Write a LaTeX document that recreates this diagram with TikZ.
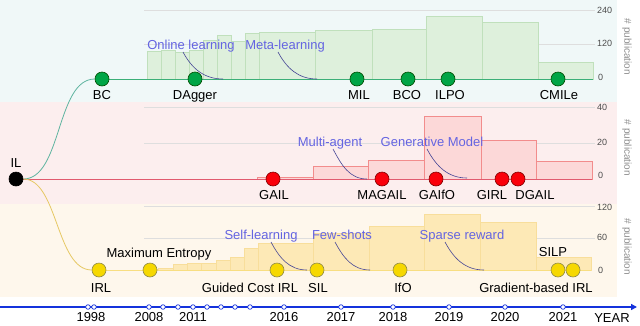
\documentclass[tikz,border=0pt]{standalone}
\usepackage{fontspec}
\setmainfont{Liberation Sans}
\usetikzlibrary{arrows.meta}
\pgfdeclarelayer{bands}
\pgfdeclarelayer{lines}
\pgfsetlayers{bands,lines,main}
\definecolor{bgtop}{RGB}{240,248,248}
\definecolor{bgmid}{RGB}{252,238,238}
\definecolor{bgbot}{RGB}{254,247,236}
\definecolor{bartopf}{RGB}{222,240,220}
\definecolor{bartopd}{RGB}{192,224,188}
\definecolor{barmidf}{RGB}{252,216,216}
\definecolor{barmidd}{RGB}{242,140,140}
\definecolor{barbotf}{RGB}{253,233,182}
\definecolor{barbotd}{RGB}{248,222,155}
\definecolor{annot}{RGB}{100,100,225}
\definecolor{curvec}{RGB}{70,70,150}
\definecolor{tlc}{RGB}{20,50,220}
\definecolor{greenn}{RGB}{0,165,70}
\definecolor{greenl}{RGB}{60,175,120}
\definecolor{redn}{RGB}{250,0,10}
\definecolor{redl}{RGB}{225,90,110}
\definecolor{yelln}{RGB}{246,216,0}
\definecolor{yelll}{RGB}{248,222,130}
\definecolor{tealc}{RGB}{95,180,160}
\definecolor{tanc}{RGB}{230,200,100}
\tikzset{
  lbl/.style={font=\fontsize{13}{15}\selectfont, anchor=base, inner sep=0pt},
  ann/.style={font=\fontsize{13}{15}\selectfont, text=annot, anchor=base, inner sep=0pt},
  axn/.style={font=\fontsize{9}{10}\selectfont, text=black!70, anchor=west, inner sep=0pt},
  axt/.style={font=\fontsize{10}{11}\selectfont, text=black!45, rotate=-90, inner sep=0pt},
  yr/.style={font=\fontsize{13}{15}\selectfont, anchor=base, inner sep=0pt},
  dot/.style={circle, minimum size=14pt, inner sep=0pt, line width=0.6pt},
  gdot/.style={dot, fill=greenn, draw=green!30!black},
  rdot/.style={dot, fill=redn, draw=red!50!black},
  ydot/.style={dot, fill=yelln, draw=yellow!50!black},
  kdot/.style={dot, fill=black, draw=black},
  tick/.style={circle, minimum size=4.6pt, inner sep=0pt, fill=white, draw=tlc, line width=0.7pt},
  grid/.style={draw=black!13, line width=0.7pt},
  tbar/.style={fill=bartopf, draw=bartopd, line width=0.6pt},
  mbar/.style={fill=barmidf, draw=barmidd, line width=0.6pt},
  bbar/.style={fill=barbotf, draw=barbotd, line width=0.6pt},
  acurve/.style={draw=curvec, line width=0.6pt},
}
\begin{document}
\begin{tikzpicture}[x=1pt,y=-1pt]
\useasboundingbox (0,0) rectangle (640,325);
\begin{pgfonlayer}{bands}
% bands
\fill[bgtop] (0,0) rectangle (617,102);
\fill[bgmid] (0,102) rectangle (617,204);
\fill[bgbot] (0,204) rectangle (617,297);
% grid lines
\foreach \g in {10,44,107,143,206,238} \draw[grid] (144,\g) -- (595,\g);
% bars top
\foreach \a/\b/\t in {147/161/51,161/175/50,175/189/52,189/203/50,203/217/40,217/231/35,231/245/41,245/259/33,259/315/32,315/372/30,372/426/29,426/482/16,482/538/22,538/593/62}
  \draw[tbar] (\a,79) rectangle (\b,\t);
% bars middle
\foreach \a/\b/\t in {257/313/177,313/368/166,368/424/160,424/481/116,481/536/140,536/592/161}
  \draw[mbar] (\a,179) rectangle (\b,\t);
% bars bottom
\foreach \a/\b/\t in {144/158/269,158/173/268,173/187/264,187/201/263,201/216/263,216/230/260,230/244/257,244/258/248,258/313/243,313/369/233,369/424/226,424/480/214,480/536/222,536/591/257}
  \draw[bbar] (\a,270) rectangle (\b,\t);
\end{pgfonlayer}
% axis labels
\node[axn] (t240) at (597,10) {240};
\node[axn] (t120) at (597,43) {120};
\node[axn] (t0) at (598,77) {0};
\node[axn] (m40) at (597,107) {40};
\node[axn] (m20) at (597,142) {20};
\node[axn] (m0) at (598,175) {0};
\node[axn] (b120) at (597,207) {120};
\node[axn] (b60) at (597,237) {60};
\node[axn] (b0) at (598,270) {0};
\node[axt] (pt) at (627,47) {\# publication};
\node[axt] (pm) at (627,148) {\# publication};
\node[axt] (pb) at (627,247) {\# publication};
% nodes
\node[kdot] (IL) at (16,179) {};
\node[gdot] (BC) at (102,79) {};
\node[gdot] (DAgger) at (195,79) {};
\node[gdot] (MIL) at (357,79) {};
\node[gdot] (BCO) at (408,79) {};
\node[gdot] (ILPO) at (448,79) {};
\node[gdot] (CMILe) at (558,79) {};
\node[rdot] (GAIL) at (273,179) {};
\node[rdot] (MAGAIL) at (382,179) {};
\node[rdot] (GAIfO) at (436,179) {};
\node[rdot] (GIRL) at (502,179) {};
\node[rdot] (DGAIL) at (518,179) {};
\node[ydot] (IRL) at (99,270) {};
\node[ydot] (MaxEnt) at (150,270) {};
\node[ydot] (GCIRL) at (277,270) {};
\node[ydot] (SIL) at (317,270) {};
\node[ydot] (IfO) at (400,270) {};
\node[ydot] (SILP) at (558,270) {};
\node[ydot] (GBIRL) at (573,270) {};
\coordinate (topend) at (593,79);
\coordinate (midend) at (592,179);
\coordinate (botend) at (591,270);
% connectors (behind nodes)
\begin{pgfonlayer}{lines}
\draw[greenl, line width=1pt] (BC) -- (topend);
\draw[redl, line width=1pt] (IL) -- (midend);
\draw[yelll, line width=1pt] (IRL) -- (botend);
\draw[tealc, line width=0.8pt] (IL) .. controls (62,179) and (56,79) .. (BC);
\draw[tanc, line width=0.8pt] (IL) .. controls (58,179) and (56,270) .. (IRL);
\end{pgfonlayer}
% node labels
\node[lbl] (lIL) at (16,167) {IL};
\node[lbl] (lBC) at (102,99) {BC};
\node[lbl] (lDAgger) at (195,99) {DAgger};
\node[lbl] (lMIL) at (359,99) {MIL};
\node[lbl] (lBCO) at (407,99) {BCO};
\node[lbl] (lILPO) at (450,99) {ILPO};
\node[lbl] (lCMILe) at (559,99) {CMILe};
\node[lbl] (lGAIL) at (274,199) {GAIL};
\node[lbl] (lMAGAIL) at (382,199) {MAGAIL};
\node[lbl] (lGAIfO) at (437,199) {GAIfO};
\node[lbl] (lGIRL) at (492,199) {GIRL};
\node[lbl] (lDGAIL) at (535,199) {DGAIL};
\node[lbl] (lIRL) at (101,292) {IRL};
\node[lbl] (lMaxEnt) at (159,257) {Maximum Entropy};
\node[lbl] (lGCIRL) at (250,292) {Guided Cost IRL};
\node[lbl] (lSIL) at (318,292) {SIL};
\node[lbl] (lIfO) at (403,292) {IfO};
\node[lbl] (lSILP) at (553,256) {SILP};
\node[lbl] (lGBIRL) at (536,292) {Gradient-based IRL};
% annotations
\node[ann] (aOnline) at (191,49) {Online learning};
\node[ann] (aMeta) at (285,49) {Meta-learning};
\node[ann] (aMulti) at (330,146) {Multi-agent};
\node[ann] (aGen) at (432,146) {Generative Model};
\node[ann] (aSelf) at (261,239) {Self-learning};
\node[ann] (aFew) at (342,239) {Few-shots};
\node[ann] (aSparse) at (462,239) {Sparse reward};
\coordinate (cOn1) at (183,52); \coordinate (cOn2) at (223,79);
\coordinate (cMe1) at (278,52); \coordinate (cMe2) at (317,79);
\coordinate (cMu1) at (333,149); \coordinate (cMu2) at (367,179);
\coordinate (cGe1) at (427,149); \coordinate (cGe2) at (467,178);
\coordinate (cSe1) at (271,242); \coordinate (cSe2) at (307,270);
\coordinate (cFe1) at (335,242); \coordinate (cFe2) at (370,270);
\coordinate (cSp1) at (445,242); \coordinate (cSp2) at (484,270);
\begin{pgfonlayer}{lines}
\foreach \p in {On,Me,Mu,Ge,Se,Fe,Sp}
  \draw[acurve] (c\p1) to[out=-62,in=180] (c\p2);
\end{pgfonlayer}
% timeline
\coordinate (tlstart) at (0,307);
\coordinate (tlend) at (637,307);
\draw[tlc, line width=1.6pt, -{Triangle[length=6pt,width=6pt]}] (tlstart) -- (tlend);
\foreach \x [count=\i] in {88,94,149,163,178,193,207,221,235,250,284,341,393,449,505,563}
  \node[tick] (tk\i) at (\x,307) {};
\foreach \x/\y in {91/1998,149/2008,193/2011,284/2016,341/2017,393/2018,449/2019,505/2020,563/2021}
  \node[yr] (y\y) at (\x,321.5) {\y};
\node[yr] (yYEAR) at (612,322) {YEAR};
\end{tikzpicture}
\end{document}
